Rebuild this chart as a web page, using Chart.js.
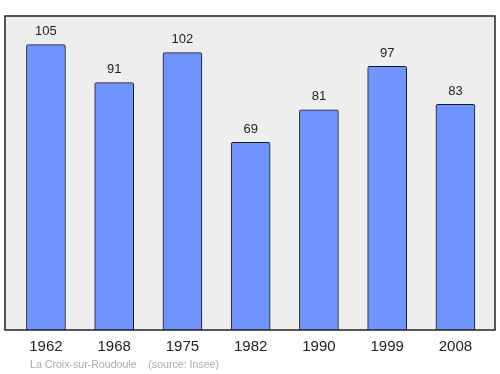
<!DOCTYPE html>
<html><head><meta charset="utf-8">
<script src="https://cdn.jsdelivr.net/npm/chart.js@4/dist/chart.umd.min.js"></script>
<style>html,body{margin:0;padding:0;background:#fff}#wrap{width:500px;height:374px}</style>
</head><body><div id="wrap"><canvas id="c" width="500" height="374"></canvas></div>
<script>
const years = ["1962","1968","1975","1982","1990","1999","2008"];
const population = [105, 91, 102, 69, 81, 97, 83];
const footerText = "La Croix-sur-Roudoule    (source: Insee)";

const points = population.map((v, i) => ({x: i, y: v}));

const deco = {
  id: 'deco',
  beforeDatasetsDraw(chart) {
    const {ctx, chartArea: a} = chart;
    ctx.save();
    ctx.fillStyle = '#eeeeee';
    ctx.fillRect(a.left, a.top, a.right - a.left, a.bottom - a.top);
    ctx.restore();
  },
  afterDatasetsDraw(chart) {
    const {ctx, chartArea: a} = chart;
    ctx.save();
    ctx.strokeStyle = '#222';
    ctx.lineWidth = 1.5;
    ctx.strokeRect(a.left, a.top, a.right - a.left, a.bottom - a.top);
    const meta = chart.getDatasetMeta(0);
    ctx.fillStyle = '#222';
    ctx.font = '13px "Liberation Sans", Arial, sans-serif';
    ctx.textAlign = 'center';
    ctx.textBaseline = 'middle';
    meta.data.forEach((el, i) => {
      ctx.fillText(String(population[i]), el.x, el.y - 13);
    });
    const xs = chart.scales.x;
    ctx.font = '15px "Liberation Sans", Arial, sans-serif';
    years.forEach((y, i) => {
      ctx.fillText(y, xs.getPixelForValue(i), a.bottom + 17);
    });
    ctx.textAlign = 'left';
    ctx.fillStyle = '#aaaaaa';
    ctx.font = '10.6px "Liberation Sans", Arial, sans-serif';
    ctx.fillText(footerText, 30, a.bottom + 35);
    ctx.restore();
  }
};

new Chart(document.getElementById('c'), {
  type: 'bar',
  data: {
    datasets: [{
      data: points,
      backgroundColor: '#7094ff',
      borderColor: '#1a1a1a',
      borderWidth: 1,
      borderRadius: 2,
      borderSkipped: 'bottom',
      barThickness: 39
    }]
  },
  options: {
    responsive: false,
    animation: false,
    layout: {padding: {left: 5, right: 5, top: 16, bottom: 44}},
    plugins: {legend: {display: false}, tooltip: {enabled: false}},
    scales: {
      x: {type: 'linear', min: -0.6, max: 6.58, offset: false, display: false},
      y: {min: 0, max: 115.5, display: false}
    }
  },
  plugins: [deco]
});
</script></body></html>
